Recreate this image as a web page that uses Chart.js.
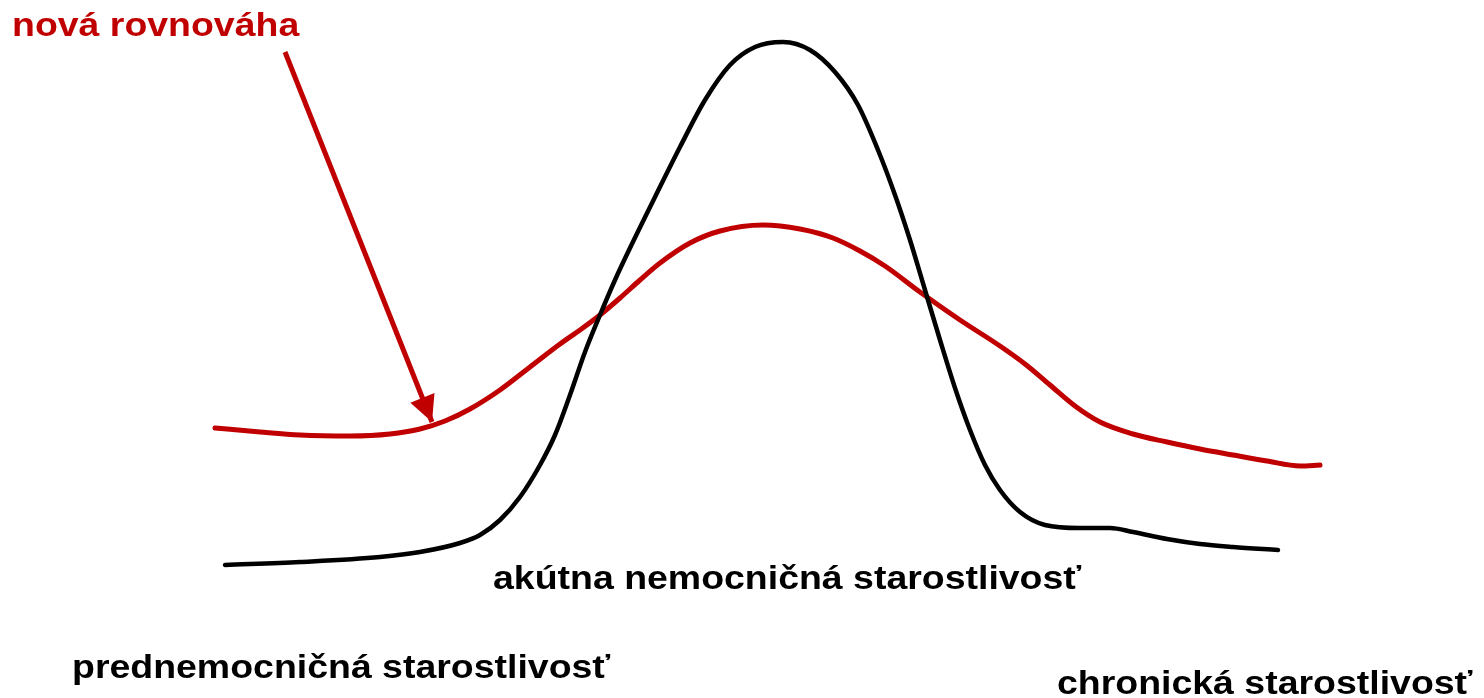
<!DOCTYPE html>
<html>
<head>
<meta charset="utf-8">
<script src="https://cdn.jsdelivr.net/npm/chart.js@4/dist/chart.umd.min.js"></script>
<style>
  html, body { margin: 0; padding: 0; background: #ffffff; overflow: hidden; }
  #wrap { position: relative; width: 1484px; height: 698px; }
  #chart { position: absolute; left: 0; top: 0; }
  .lbl { position: absolute; white-space: nowrap; font-family: "Liberation Sans", Arial, sans-serif;
         font-weight: bold; font-size: 33px; line-height: 1; transform: scaleX(1.135); transform-origin: left top; }
</style>
</head>
<body>
<div id="wrap">
  <canvas id="chart" width="1484" height="698"></canvas>
  <div class="lbl" style="left:12px; top:8px; color:#c00000;">nová rovnováha</div>
  <div class="lbl" style="left:493px; top:561px; color:#000;">akútna nemocničná starostlivosť</div>
  <div class="lbl" style="left:72px; top:650px; color:#000;">prednemocničná starostlivosť</div>
  <div class="lbl" style="left:1057px; top:666px; color:#000;">chronická starostlivosť</div>
</div>
<script>
// Black curve (original state): x position and level
const blackX = [225, 300, 380, 420, 460, 480, 500, 520, 540, 555, 570, 585, 600, 615, 630, 655, 680, 705, 730, 755, 783, 810, 835, 858, 878, 895, 910, 925, 940, 955, 970, 985, 1000, 1020, 1045, 1080, 1110, 1133, 1167, 1200, 1233, 1278];
const blackY = [133, 136, 141, 146, 155, 163, 178, 201, 233, 263, 303, 346, 383, 418, 450, 501, 551, 598, 633, 651, 656, 648, 626, 593, 548, 503, 458, 408, 358, 310, 268, 233, 208, 186, 173, 170, 170, 166, 159, 154, 151, 148];

// Red curve (new equilibrium)
const redX = [215, 260, 300, 350, 390, 420, 445, 470, 500, 530, 560, 580, 600, 620, 640, 660, 690, 720, 763, 800, 833, 860, 885, 920, 960, 1000, 1025, 1050, 1075, 1100, 1133, 1167, 1200, 1233, 1267, 1300, 1320];
const redY = [270, 266, 263, 262, 264, 269, 277, 289, 308, 331, 354, 368, 383, 400, 418, 435, 455, 467, 473, 469, 460, 447, 432, 406, 378, 352, 334, 313, 292, 276, 264, 256, 249, 243, 237, 232, 233];

// Arrow from label to the red curve
const arrowX = [285, 432];
const arrowY = [646, 276];

const toPts = (xs, ys) => xs.map((x, i) => ({ x: x, y: ys[i] }));

const arrowHead = {
  id: 'arrowHead',
  afterDatasetsDraw(chart) {
    const meta = chart.getDatasetMeta(2);
    const pts = meta.data;
    if (pts.length < 2) return;
    const a = pts[pts.length - 2], b = pts[pts.length - 1];
    const ang = Math.atan2(b.y - a.y, b.x - a.x);
    const len = 26, half = 13;
    const ctx = chart.ctx;
    ctx.save();
    ctx.fillStyle = '#c00000';
    ctx.beginPath();
    ctx.moveTo(b.x, b.y);
    ctx.lineTo(b.x - len * Math.cos(ang) + half * Math.sin(ang), b.y - len * Math.sin(ang) - half * Math.cos(ang));
    ctx.lineTo(b.x - len * Math.cos(ang) - half * Math.sin(ang), b.y - len * Math.sin(ang) + half * Math.cos(ang));
    ctx.closePath();
    ctx.fill();
    ctx.restore();
  }
};

new Chart(document.getElementById('chart'), {
  type: 'line',
  data: {
    datasets: [
      { label: 'pôvodný stav', data: toPts(blackX, blackY), borderColor: '#000000', borderWidth: 4.5, cubicInterpolationMode: 'monotone', pointRadius: 0, fill: false, borderCapStyle: 'round' },
      { label: 'nová rovnováha', data: toPts(redX, redY), borderColor: '#c00000', borderWidth: 5, cubicInterpolationMode: 'monotone', pointRadius: 0, fill: false, borderCapStyle: 'round' },
      { label: 'šípka', data: toPts(arrowX, arrowY), borderColor: '#c00000', borderWidth: 5, tension: 0, pointRadius: 0, fill: false }
    ]
  },
  options: {
    responsive: false,
    animation: false,
    events: [],
    layout: { padding: 0 },
    plugins: { legend: { display: false }, tooltip: { enabled: false } },
    scales: {
      x: { type: 'linear', min: 0, max: 1484, display: false },
      y: { type: 'linear', min: 0, max: 698, display: false }
    }
  },
  plugins: [arrowHead]
});
</script>
</body>
</html>
